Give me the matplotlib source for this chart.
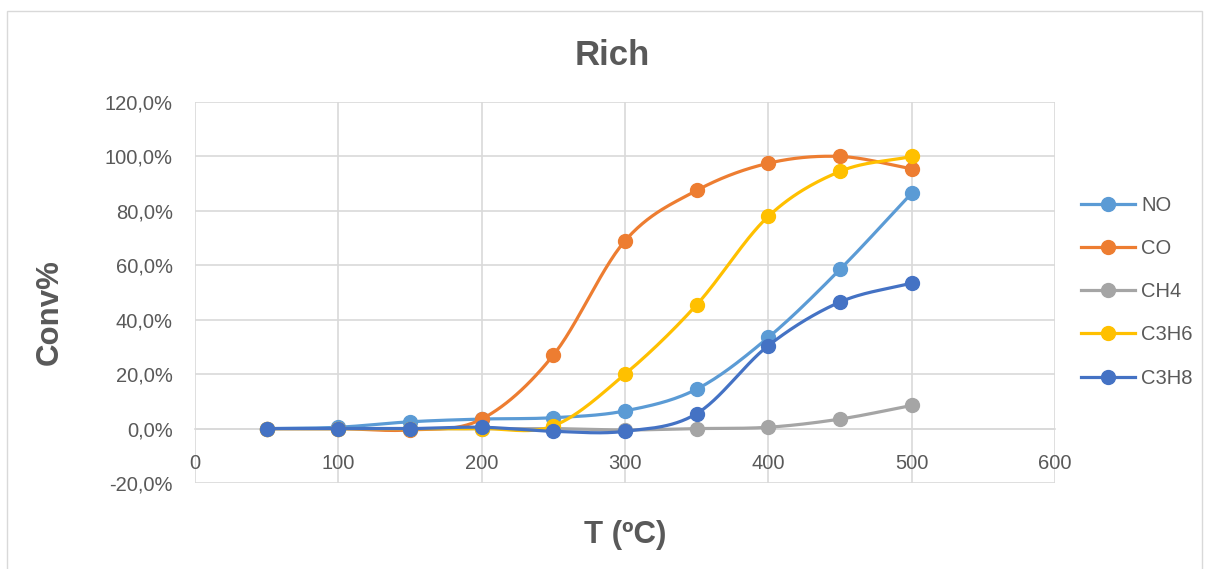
import numpy as np
import matplotlib.pyplot as plt
from matplotlib.patches import Rectangle
from matplotlib.ticker import FuncFormatter

plt.rcParams['font.family'] = ['Liberation Sans', 'DejaVu Sans']

temps = [50, 100, 150, 200, 250, 300, 350, 400, 450, 500]
no_conv = [0.0, 0.5, 2.5, 3.5, 4.0, 6.5, 14.5, 33.5, 58.5, 86.5]
co_conv = [0.0, 0.0, -0.5, 3.5, 27.0, 69.0, 87.5, 97.5, 100.0, 95.5]
ch4_conv = [0.0, 0.0, 0.0, 0.0, 0.0, -0.5, 0.0, 0.5, 3.5, 8.5]
c3h6_conv = [0.0, 0.0, 0.0, 0.0, 1.0, 20.0, 45.5, 78.0, 94.5, 100.0]
c3h8_conv = [0.0, 0.0, 0.0, 0.5, -1.0, -1.0, 5.5, 30.5, 46.5, 53.5]

names = ['NO', 'CO', 'CH4', 'C3H6', 'C3H8']
series = [no_conv, co_conv, ch4_conv, c3h6_conv, c3h8_conv]
colors = ['#5B9BD5', '#ED7D31', '#A5A5A5', '#FFC000', '#4472C4']


def smooth(x, y, n=30):
    # catmull-rom curve through the points, like excel's smoothed line
    x = np.asarray(x, float)
    y = np.asarray(y, float)
    px = np.concatenate([[2 * x[0] - x[1]], x, [2 * x[-1] - x[-2]]])
    py = np.concatenate([[2 * y[0] - y[1]], y, [2 * y[-1] - y[-2]]])
    xs, ys = [], []
    t = np.linspace(0, 1, n)
    for i in range(1, len(px) - 2):
        for p, out in ((px, xs), (py, ys)):
            p0, p1, p2, p3 = p[i - 1], p[i], p[i + 1], p[i + 2]
            out.extend(0.5 * (2 * p1 + (-p0 + p2) * t
                              + (2 * p0 - 5 * p1 + 4 * p2 - p3) * t ** 2
                              + (-p0 + 3 * p1 - 3 * p2 + p3) * t ** 3))
    return np.array(xs), np.array(ys)


fig = plt.figure(figsize=(12.06, 5.69), dpi=100)
fig.patches.append(Rectangle((0.006, -0.01), 0.991, 0.99, transform=fig.transFigure,
                             fill=False, edgecolor='#d9d9d9', lw=1))
ax = fig.add_axes([0.1617, 0.1511, 0.7131, 0.6696])

for name, vals, c in zip(names, series, colors):
    sx, sy = smooth(temps, vals)
    ax.plot(sx, sy, color=c, lw=2.3, solid_capstyle='round', zorder=3)
    ax.plot(temps, vals, 'o', color=c, ms=10, zorder=3)
    ax.plot([], [], '-o', color=c, lw=2.3, ms=10, label=name)

ax.set_xlim(0, 600)
ax.set_ylim(-20, 120)
ax.set_xticks(range(0, 601, 100))
ax.set_yticks(range(-20, 121, 20))
ax.yaxis.set_major_formatter(FuncFormatter(lambda v, p: f'{v:.1f}%'.replace('.', ',')))
ax.grid(True, color='#d9d9d9', lw=1.2, zorder=0)
ax.set_axisbelow(True)
for s in ['top', 'right', 'left']:
    ax.spines[s].set_visible(False)
ax.spines['bottom'].set_position(('data', 0))
ax.spines['bottom'].set_color('#d9d9d9')
ax.spines['bottom'].set_linewidth(1.2)
ax.tick_params(length=0, labelsize=14.5, labelcolor='#595959')
ax.tick_params(axis='x', pad=18)
ax.tick_params(axis='y', pad=16)

fig.text(0.508, 0.903, 'Rich', ha='center', va='center', fontsize=25,
         fontweight='bold', color='#595959')
fig.text(0.041, 0.452, 'Conv%', ha='center', va='center', rotation=90,
         fontsize=22.5, fontweight='bold', color='#595959')
fig.text(0.518, 0.06, 'T (ºC)', ha='center', va='center', fontsize=22.5,
         fontweight='bold', color='#595959')

leg = ax.legend(loc='center left', bbox_to_anchor=(1.009, 0.502), frameon=False,
                fontsize=14.5, labelspacing=1.2, handlelength=2.7, handletextpad=0.3)
for t in leg.get_texts():
    t.set_color('#595959')

fig.savefig('out.png', dpi=100)
